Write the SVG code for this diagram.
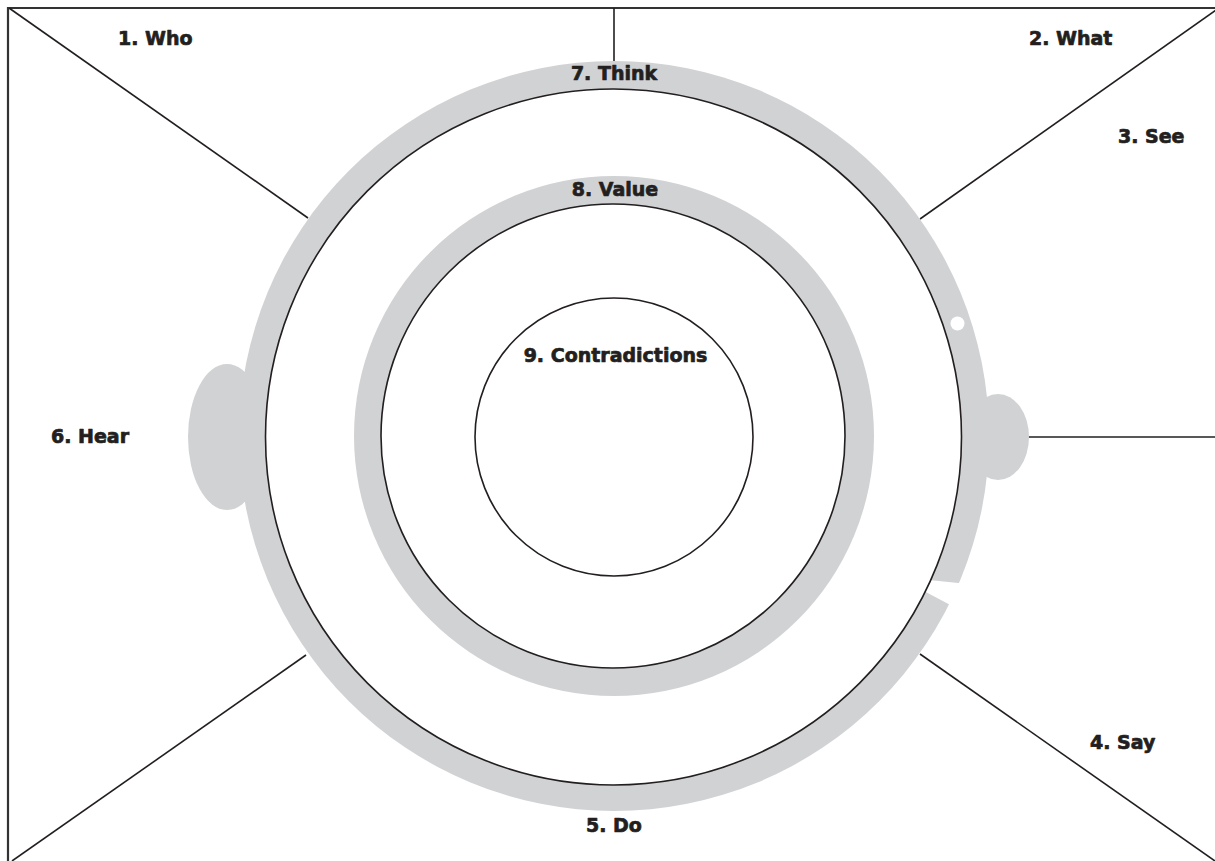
<svg xmlns="http://www.w3.org/2000/svg" width="1215" height="861" viewBox="0 0 1215 861">
  <style>
    .frame { fill: none; stroke: #333333; stroke-width: 2.2; }
    .link { fill: none; stroke: #231f20; stroke-width: 1.6; }
    .band { fill: #d1d2d4; stroke: none; }
    .ring { fill: #ffffff; stroke: #231f20; stroke-width: 1.6; }
    .cut { fill: #ffffff; stroke: none; }
    .label { font-family: "DejaVu Sans", "Liberation Sans", sans-serif; font-weight: bold; font-size: 19px; fill: #231f20; stroke: #231f20; stroke-width: 0.7; stroke-linejoin: round; }
  </style>
  <rect width="1215" height="861" fill="#ffffff"/>

  <!-- outer frame (only top and left edges fall inside the sheet) -->
  <g id="frame">
    <path class="frame" d="M8,861 V8 H1215"/>
  </g>

  <!-- dividing lines from the frame to the head -->
  <g id="connectors">
    <line class="link" x1="9" y1="8" x2="308" y2="218"/>
    <line class="link" x1="1219" y1="8" x2="920" y2="219"/>
    <line class="link" x1="614" y1="8" x2="614" y2="62"/>
    <line class="link" x1="1028" y1="437" x2="1215" y2="437"/>
    <line class="link" x1="12" y1="861" x2="306" y2="655"/>
    <line class="link" x1="920" y1="654" x2="1215" y2="861"/>
  </g>

  <!-- head: ears, outer band and skull outline -->
  <g id="think">
    <ellipse id="ear-left" class="band" cx="227" cy="437" rx="39" ry="73"/>
    <ellipse id="ear-right" class="band" cx="998" cy="437" rx="31" ry="43"/>
    <circle class="band" cx="614" cy="436" r="375"/>
    <!-- notch in the band and the small eye hole -->
    <polygon class="cut" points="929,580 968,584 956,608 922,590"/>
    <circle class="cut" cx="957.5" cy="323.5" r="7"/>
    <circle class="ring" cx="613.5" cy="437" r="348"/>
    <text class="label" x="614" y="80" text-anchor="middle">7. Think</text>
  </g>

  <g id="value">
    <circle class="band" cx="614" cy="436" r="260"/>
    <circle class="ring" cx="613" cy="436" r="232"/>
    <text class="label" x="615" y="196" text-anchor="middle">8. Value</text>
  </g>

  <g id="contradictions">
    <circle class="ring" cx="614" cy="437" r="139"/>
    <text class="label" x="615.5" y="362" text-anchor="middle">9. Contradictions</text>
  </g>

  <g id="who"><text class="label" x="118" y="45">1. Who</text></g>
  <g id="what"><text class="label" x="1029" y="45">2. What</text></g>
  <g id="see"><text class="label" x="1118" y="143">3. See</text></g>
  <g id="say"><text class="label" x="1090" y="749">4. Say</text></g>
  <g id="do"><text class="label" x="586" y="832">5. Do</text></g>
  <g id="hear"><text class="label" x="51" y="443">6. Hear</text></g>
</svg>
